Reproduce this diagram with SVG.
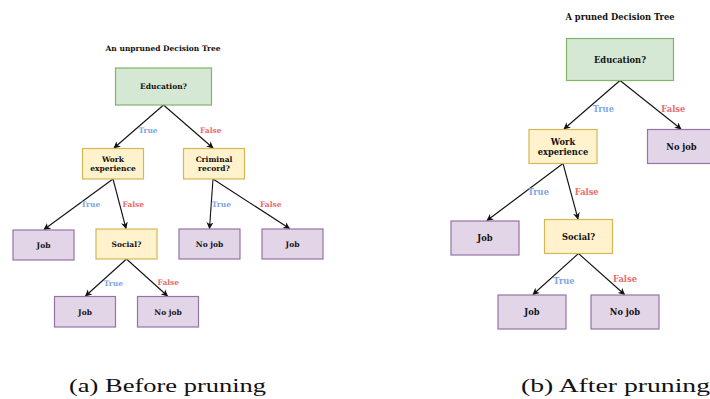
<svg xmlns="http://www.w3.org/2000/svg" width="710" height="399" viewBox="0 0 710 399">
  <style>
    .green { fill: #d5e8d4; stroke: #82b366; stroke-width: 1.2; }
    .yellow { fill: #fff2cc; stroke: #d6b656; stroke-width: 1.2; }
    .purple { fill: #e1d5e7; stroke: #9673a6; stroke-width: 1.2; }
    text { font-family: "DejaVu Serif", serif; font-weight: bold; text-anchor: middle; dominant-baseline: central; fill: #111111; }
    .a text { font-size: 7.5px; }
    .b text { font-size: 8.3px; }
    text.t { fill: #7ea6e0; }
    text.f { fill: #ea6b66; }
    .edge { stroke: #111111; stroke-width: 1.1; fill: none; marker-end: url(#arrow); }
    .cap { font-family: "Liberation Serif", "Times New Roman", serif; font-weight: normal; font-size: 19px; text-anchor: start; dominant-baseline: alphabetic; fill: #111111; }
  </style>
  <defs>
    <marker id="arrow" viewBox="0 0 10 10" refX="9" refY="5" markerWidth="7" markerHeight="7" markerUnits="userSpaceOnUse" orient="auto">
      <path d="M0,0 L10,5 L0,10 L3,5 z" fill="#111111"/>
    </marker>
  </defs>
  <rect width="710" height="399" fill="#ffffff"/>

  <!-- (a) unpruned tree -->
  <g class="a">
    <text x="163" y="48">An unpruned Decision Tree</text>
    <g id="connectors-a">
      <line class="edge" x1="163.5" y1="105" x2="114" y2="148"/>
      <line class="edge" x1="163.5" y1="105" x2="213" y2="148"/>
      <line class="edge" x1="113" y1="179" x2="44" y2="229.5"/>
      <line class="edge" x1="113" y1="179" x2="126" y2="228.5"/>
      <line class="edge" x1="213" y1="179" x2="209.5" y2="228.5"/>
      <line class="edge" x1="213" y1="179" x2="289.5" y2="228.5"/>
      <line class="edge" x1="126.5" y1="259" x2="85.5" y2="296"/>
      <line class="edge" x1="126.5" y1="259" x2="167.5" y2="296"/>
      <text class="t" x="148" y="130">True</text>
      <text class="f" x="210.7" y="130">False</text>
      <text class="t" x="90.7" y="204.7">True</text>
      <text class="f" x="133.3" y="204.7">False</text>
      <text class="t" x="221.3" y="204.7">True</text>
      <text class="f" x="270.7" y="204.7">False</text>
      <text class="t" x="113.3" y="283.3">True</text>
      <text class="f" x="168.3" y="282">False</text>
    </g>
    <g id="a-education">
      <rect class="green" x="115.5" y="68" width="96" height="37"/>
      <text x="163.5" y="86.5">Education?</text>
    </g>
    <g id="a-work">
      <rect class="yellow" x="82.5" y="148.5" width="61" height="30.5"/>
      <text x="113" y="159.7">Work</text>
      <text x="113" y="168.7">experience</text>
    </g>
    <g id="a-criminal">
      <rect class="yellow" x="183.5" y="148.5" width="61" height="30.5"/>
      <text x="214" y="159.7">Criminal</text>
      <text x="214" y="168.7">record?</text>
    </g>
    <g id="a-job1">
      <rect class="purple" x="13" y="230" width="61" height="30"/>
      <text x="43.5" y="245.3">Job</text>
    </g>
    <g id="a-social">
      <rect class="purple" x="96" y="229" width="61" height="30" style="fill:#fff2cc;stroke:#d6b656"/>
      <text x="126.5" y="244">Social?</text>
    </g>
    <g id="a-nojob1">
      <rect class="purple" x="179" y="229" width="61" height="30"/>
      <text x="209.5" y="244">No job</text>
    </g>
    <g id="a-job2">
      <rect class="purple" x="262" y="229" width="61" height="30"/>
      <text x="292.5" y="244">Job</text>
    </g>
    <g id="a-job3">
      <rect class="purple" x="54.5" y="296.5" width="61" height="30.5"/>
      <text x="85" y="312">Job</text>
    </g>
    <g id="a-nojob2">
      <rect class="purple" x="137.5" y="296.5" width="61" height="30.5"/>
      <text x="168" y="312">No job</text>
    </g>
  </g>

  <!-- (b) pruned tree -->
  <g class="b">
    <text x="620" y="16.5">A pruned Decision Tree</text>
    <g id="connectors-b">
      <line class="edge" x1="620" y1="80.5" x2="564" y2="129"/>
      <line class="edge" x1="620" y1="80.5" x2="681" y2="129"/>
      <line class="edge" x1="563" y1="163.5" x2="487" y2="220.5"/>
      <line class="edge" x1="563" y1="163.5" x2="578" y2="219"/>
      <line class="edge" x1="578.5" y1="253.5" x2="533" y2="294.5"/>
      <line class="edge" x1="578.5" y1="253.5" x2="624.5" y2="294.5"/>
      <text class="t" x="603.3" y="109">True</text>
      <text class="f" x="673.3" y="109">False</text>
      <text class="t" x="538.3" y="192.3">True</text>
      <text class="f" x="586.7" y="192.3">False</text>
      <text class="t" x="564" y="280.7">True</text>
      <text class="f" x="625" y="279">False</text>
    </g>
    <g id="b-education">
      <rect class="green" x="566.5" y="38.5" width="107" height="42"/>
      <text x="620" y="60">Education?</text>
    </g>
    <g id="b-work">
      <rect class="yellow" x="529" y="129.5" width="68" height="34"/>
      <text x="563" y="141.7">Work</text>
      <text x="563" y="152">experience</text>
    </g>
    <g id="b-nojob1">
      <rect class="purple" x="647.5" y="129.5" width="68" height="34"/>
      <text x="681.5" y="147">No job</text>
    </g>
    <g id="b-job1">
      <rect class="purple" x="451" y="221" width="68" height="34"/>
      <text x="485" y="238">Job</text>
    </g>
    <g id="b-social">
      <rect class="yellow" x="544.5" y="219.5" width="68" height="34"/>
      <text x="578.5" y="236.5">Social?</text>
    </g>
    <g id="b-job2">
      <rect class="purple" x="498" y="295" width="68" height="34"/>
      <text x="532" y="312">Job</text>
    </g>
    <g id="b-nojob2">
      <rect class="purple" x="591" y="295" width="68" height="34"/>
      <text x="625" y="312">No job</text>
    </g>
  </g>

  <!-- sub-figure captions -->
  <text class="cap" x="69" y="391.5" textLength="197" lengthAdjust="spacingAndGlyphs">(a) Before pruning</text>
  <text class="cap" x="521" y="391.5" textLength="189" lengthAdjust="spacingAndGlyphs">(b) After pruning</text>
</svg>
